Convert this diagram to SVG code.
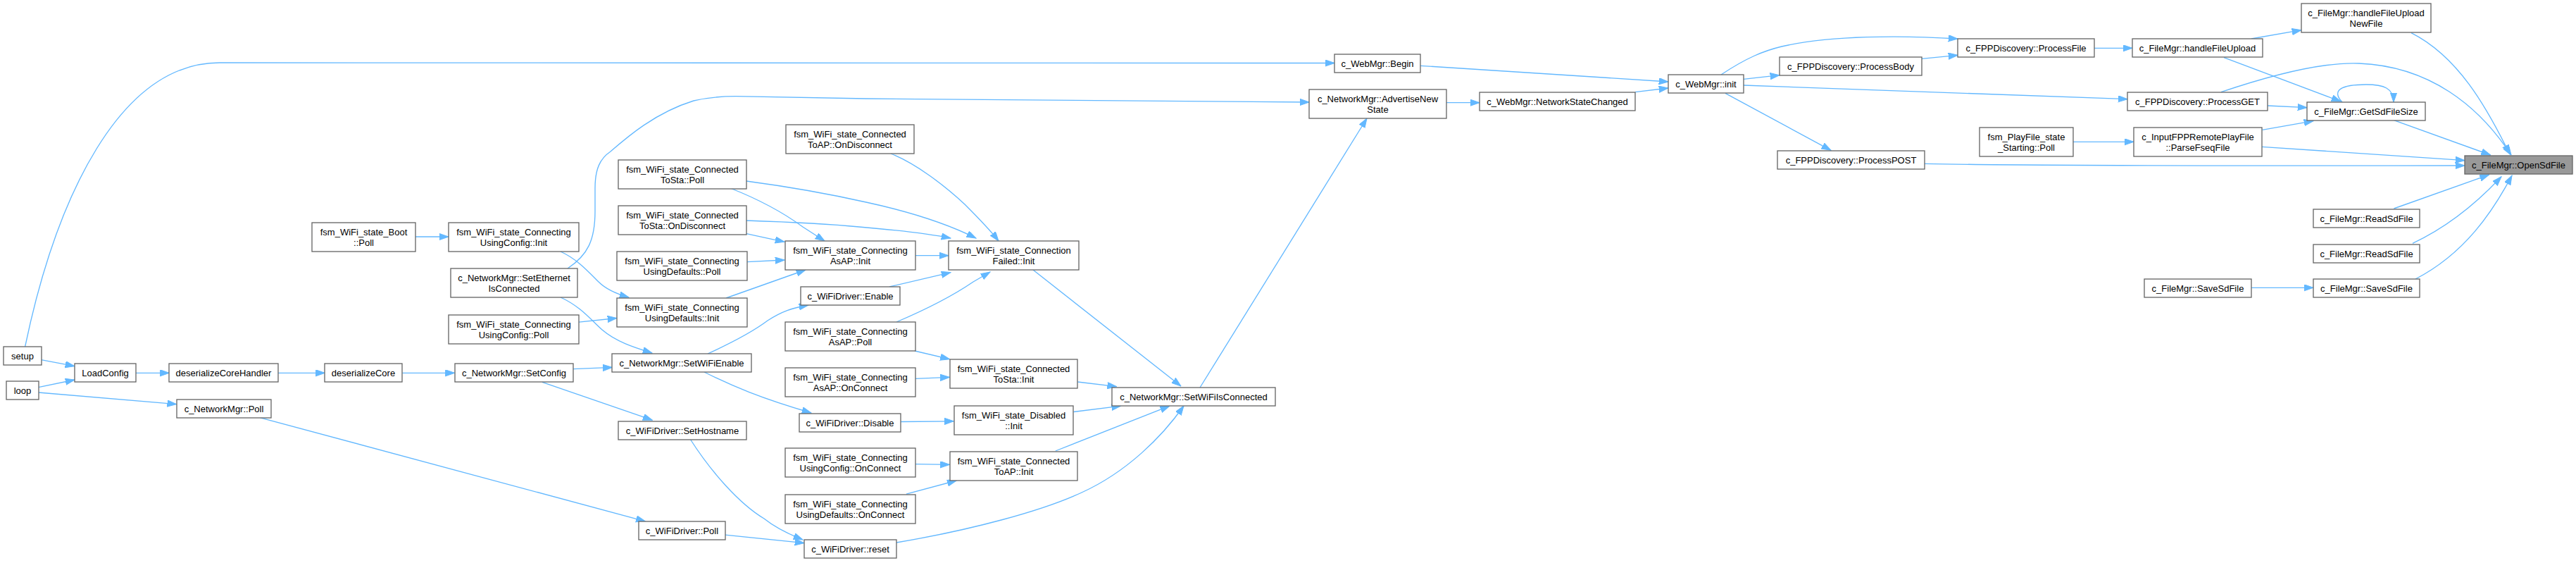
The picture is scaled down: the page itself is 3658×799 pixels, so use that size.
<svg xmlns="http://www.w3.org/2000/svg" width="3658" height="799" viewBox="0 0 3658 799">
<style>
.node rect{fill:#fff;stroke:#666;stroke-width:1.33}
#n_open rect{fill:#999}
.node text{font-family:"Liberation Sans",Arial,Helvetica,sans-serif;font-size:13px;text-anchor:middle;fill:#000}
.edges path{fill:none;stroke:#63b8ff;stroke-width:1.33;marker-end:url(#arr)}
</style>
<defs>
<marker id="arr" markerUnits="userSpaceOnUse" markerWidth="14" markerHeight="10" refX="13.3" refY="4.65" orient="auto" viewBox="0 0 14 10">
<path d="M0,0 L13.3,4.65 L0,9.3 z" fill="#63b8ff" stroke="#63b8ff" stroke-width="1"/>
</marker>
</defs>
<rect width="3658" height="799" fill="#fff"/>
<g class="edges">
<path d="M35.6,492 C80,280 170,89 312,89 L1895,89.5"/>
<path d="M2017,93.3 L2369,116"/>
<path d="M2054,145.7 L2101,145.7"/>
<path d="M2322,130.7 L2369,125"/>
<path d="M2444,106 C2480,82 2505,72 2530,66 C2600,50 2700,50 2780,55"/>
<path d="M2476,112.3 L2527,106.7"/>
<path d="M2729,83.3 L2780,78.3"/>
<path d="M2476,121 L3021,140.7"/>
<path d="M2450,132.3 L2600,213.3"/>
<path d="M2974,68.3 L3028,68.3"/>
<path d="M2944,201.3 L3030,201.3"/>
<path d="M2733,232.3 C2900,236 3300,235 3500,235"/>
<path d="M3197,55 L3268,42.7"/>
<path d="M3158,81.7 L3324,144"/>
<path d="M3154,130.7 C3230,105 3300,88 3350,90 C3450,94 3520,150 3566,220"/>
<path d="M3220,150 L3276,152.7"/>
<path d="M3212.6,184.3 L3285,171.7"/>
<path d="M3212,208.3 L3500,227.7"/>
<path d="M3326,145 C3310,128 3325,120 3360,120 C3385,120 3399,125 3399,145"/>
<path d="M3399.4,170.7 L3536.6,220"/>
<path d="M3424,46.7 C3490,80 3530,150 3564,219"/>
<path d="M3399.4,296 L3534.6,248"/>
<path d="M3426,345.3 C3480,320 3520,285 3552,250.7"/>
<path d="M3430,396 C3500,360 3540,300 3567,249"/>
<path d="M3197,408.3 L3285,408.3"/>
<path d="M58.5,510.7 L106,519.7"/>
<path d="M54.6,549.6 L106,539"/>
<path d="M54.6,557 L250.7,573.6"/>
<path d="M193,529.3 L240.4,529.3"/>
<path d="M395,529.3 L461.4,529.3"/>
<path d="M571.4,529.3 L645.6,529.3"/>
<path d="M369.7,592.8 L916.4,739.8"/>
<path d="M590,336 L637,336"/>
<path d="M796,357 C820,368 835,385 850,400 C860,410 875,417 893,422"/>
<path d="M822,457.2 L876,451.5"/>
<path d="M796,422 C825,435 840,455 855,468 C875,485 900,493 926,501"/>
<path d="M814,523.7 L869.4,521.4"/>
<path d="M770,542.3 L926.3,596.2"/>
<path d="M806,381 C835,362 845,340 845,300 L845,267 C845,240 852,225 867,215 C890,195 930,160 985,143 C1010,137 1030,136.7 1045,136.7 L1230,140 L1859,145"/>
<path d="M1037,267 C1070,280 1110,300 1140,322 L1171,342"/>
<path d="M1060,257 C1120,265 1190,278 1230,287 C1290,300 1340,315 1386,338"/>
<path d="M1060,331.7 L1114,343.3"/>
<path d="M1060,313 C1120,315 1180,318 1220,322 C1280,327 1320,332 1350,338"/>
<path d="M1265,218 C1300,232 1340,262 1370,290 C1390,310 1405,325 1418,342"/>
<path d="M1300,362.7 L1347,362.7"/>
<path d="M1061,371.7 L1114,369"/>
<path d="M1031,423 L1144,383"/>
<path d="M1263,407 L1350,386.7"/>
<path d="M1273,457 C1320,437 1360,415 1382,400 L1406,386"/>
<path d="M1005,502 C1040,486 1070,470 1090,455 C1110,442 1125,437 1148,433"/>
<path d="M1000,528 C1040,548 1080,565 1152,586"/>
<path d="M980,623 C1010,670 1050,715 1085,736 C1100,748 1120,758 1140,766"/>
<path d="M1030,759.1 L1142,770.7"/>
<path d="M1299,498 L1348.5,509.7"/>
<path d="M1300,537.3 L1348.5,535.3"/>
<path d="M1279.3,598.5 L1354.4,597.8"/>
<path d="M1300,658.7 L1348.5,659.4"/>
<path d="M1287,701.2 L1358.4,682"/>
<path d="M1530.4,542 L1585.7,548.6"/>
<path d="M1524.5,584.5 L1591.7,576.2"/>
<path d="M1498.8,640 L1660.8,576.2"/>
<path d="M1273,770 C1380,752 1480,725 1536,699 C1600,670 1650,620 1681,576"/>
<path d="M1467,383 L1677,548"/>
<path d="M1704,550 L1941,168"/>
</g>
<g id="n_open" class="node"><rect x="3500" y="221" width="153" height="26"/><text x="3576.5" y="238.8">c_FileMgr::OpenSdFile</text></g>
<g id="n_newfile" class="node"><rect x="3268" y="5" width="184" height="41"/><text x="3360" y="23.3">c_FileMgr::handleFileUpload</text><text x="3360" y="37.8">NewFile</text></g>
<g id="n_getsize" class="node"><rect x="3276" y="145" width="168" height="26"/><text x="3360" y="162.8">c_FileMgr::GetSdFileSize</text></g>
<g id="n_read1" class="node"><rect x="3285" y="297" width="151" height="26"/><text x="3360.5" y="314.8">c_FileMgr::ReadSdFile</text></g>
<g id="n_read2" class="node"><rect x="3285" y="347" width="151" height="26"/><text x="3360.5" y="364.8">c_FileMgr::ReadSdFile</text></g>
<g id="n_save2" class="node"><rect x="3285" y="396" width="151" height="26"/><text x="3360.5" y="413.8">c_FileMgr::SaveSdFile</text></g>
<g id="n_upload" class="node"><rect x="3028" y="55" width="185" height="26"/><text x="3120.5" y="72.8">c_FileMgr::handleFileUpload</text></g>
<g id="n_get" class="node"><rect x="3021" y="131" width="199" height="26"/><text x="3120.5" y="148.8">c_FPPDiscovery::ProcessGET</text></g>
<g id="n_parse" class="node"><rect x="3030" y="181" width="182" height="41"/><text x="3121" y="199.3">c_InputFPPRemotePlayFile</text><text x="3121" y="213.8">::ParseFseqFile</text></g>
<g id="n_save1" class="node"><rect x="3045" y="396" width="152" height="26"/><text x="3121" y="413.8">c_FileMgr::SaveSdFile</text></g>
<g id="n_pfile" class="node"><rect x="2780" y="55" width="194" height="26"/><text x="2877" y="72.8">c_FPPDiscovery::ProcessFile</text></g>
<g id="n_playpoll" class="node"><rect x="2811" y="181" width="133" height="41"/><text x="2877.5" y="199.3">fsm_PlayFile_state</text><text x="2877.5" y="213.8">_Starting::Poll</text></g>
<g id="n_body" class="node"><rect x="2527" y="81" width="202" height="26"/><text x="2628" y="98.8">c_FPPDiscovery::ProcessBody</text></g>
<g id="n_post" class="node"><rect x="2524" y="214" width="209" height="26"/><text x="2628.5" y="231.8">c_FPPDiscovery::ProcessPOST</text></g>
<g id="n_init" class="node"><rect x="2369" y="106" width="107" height="26"/><text x="2422.5" y="123.8">c_WebMgr::init</text></g>
<g id="n_begin" class="node"><rect x="1895" y="77" width="122" height="26"/><text x="1956" y="94.8">c_WebMgr::Begin</text></g>
<g id="n_nsc" class="node"><rect x="2101" y="131" width="221" height="26"/><text x="2211.5" y="148.8">c_WebMgr::NetworkStateChanged</text></g>
<g id="n_adv" class="node"><rect x="1859" y="127" width="195" height="41"/><text x="1956.5" y="145.3">c_NetworkMgr::AdvertiseNew</text><text x="1956.5" y="159.8">State</text></g>
<g id="n_setwific" class="node"><rect x="1579" y="550" width="232" height="26"/><text x="1695" y="567.8">c_NetworkMgr::SetWiFiIsConnected</text></g>
<g id="n_cfinit" class="node"><rect x="1347" y="342" width="185" height="41"/><text x="1439.5" y="360.3">fsm_WiFi_state_Connection</text><text x="1439.5" y="374.8">Failed::Init</text></g>
<g id="n_tostainit" class="node"><rect x="1349" y="510" width="181" height="41"/><text x="1439.5" y="528.3">fsm_WiFi_state_Connected</text><text x="1439.5" y="542.8">ToSta::Init</text></g>
<g id="n_disinit" class="node"><rect x="1355" y="576" width="169" height="41"/><text x="1439.5" y="594.3">fsm_WiFi_state_Disabled</text><text x="1439.5" y="608.8">::Init</text></g>
<g id="n_toapinit" class="node"><rect x="1349" y="641" width="181" height="41"/><text x="1439.5" y="659.3">fsm_WiFi_state_Connected</text><text x="1439.5" y="673.8">ToAP::Init</text></g>
<g id="n_toapdisc" class="node"><rect x="1116" y="177" width="182" height="41"/><text x="1207" y="195.3">fsm_WiFi_state_Connected</text><text x="1207" y="209.8">ToAP::OnDisconnect</text></g>
<g id="n_asapinit" class="node"><rect x="1115" y="342" width="185" height="41"/><text x="1207.5" y="360.3">fsm_WiFi_state_Connecting</text><text x="1207.5" y="374.8">AsAP::Init</text></g>
<g id="n_enable" class="node"><rect x="1137" y="407" width="141" height="26"/><text x="1207.5" y="424.8">c_WiFiDriver::Enable</text></g>
<g id="n_asappoll" class="node"><rect x="1115" y="457" width="185" height="41"/><text x="1207.5" y="475.3">fsm_WiFi_state_Connecting</text><text x="1207.5" y="489.8">AsAP::Poll</text></g>
<g id="n_asapconn" class="node"><rect x="1115" y="522" width="185" height="41"/><text x="1207.5" y="540.3">fsm_WiFi_state_Connecting</text><text x="1207.5" y="554.8">AsAP::OnConnect</text></g>
<g id="n_disable" class="node"><rect x="1135" y="587" width="144" height="26"/><text x="1207" y="604.8">c_WiFiDriver::Disable</text></g>
<g id="n_ucconn" class="node"><rect x="1115" y="636" width="185" height="41"/><text x="1207.5" y="654.3">fsm_WiFi_state_Connecting</text><text x="1207.5" y="668.8">UsingConfig::OnConnect</text></g>
<g id="n_udconn" class="node"><rect x="1115" y="702" width="185" height="41"/><text x="1207.5" y="720.3">fsm_WiFi_state_Connecting</text><text x="1207.5" y="734.8">UsingDefaults::OnConnect</text></g>
<g id="n_reset" class="node"><rect x="1142" y="766" width="131" height="26"/><text x="1207.5" y="783.8">c_WiFiDriver::reset</text></g>
<g id="n_tostapoll" class="node"><rect x="878" y="227" width="182" height="41"/><text x="969" y="245.3">fsm_WiFi_state_Connected</text><text x="969" y="259.8">ToSta::Poll</text></g>
<g id="n_tostadisc" class="node"><rect x="878" y="292" width="182" height="41"/><text x="969" y="310.3">fsm_WiFi_state_Connected</text><text x="969" y="324.8">ToSta::OnDisconnect</text></g>
<g id="n_udpoll" class="node"><rect x="876" y="357" width="185" height="41"/><text x="968.5" y="375.3">fsm_WiFi_state_Connecting</text><text x="968.5" y="389.8">UsingDefaults::Poll</text></g>
<g id="n_udinit" class="node"><rect x="876" y="423" width="185" height="41"/><text x="968.5" y="441.3">fsm_WiFi_state_Connecting</text><text x="968.5" y="455.8">UsingDefaults::Init</text></g>
<g id="n_setwifien" class="node"><rect x="869" y="502" width="198" height="26"/><text x="968" y="519.8">c_NetworkMgr::SetWiFiEnable</text></g>
<g id="n_hostname" class="node"><rect x="878" y="598" width="182" height="26"/><text x="969" y="615.8">c_WiFiDriver::SetHostname</text></g>
<g id="n_wdpoll" class="node"><rect x="907" y="740" width="123" height="26"/><text x="968.5" y="757.8">c_WiFiDriver::Poll</text></g>
<g id="n_ucinit" class="node"><rect x="637" y="316" width="185" height="41"/><text x="729.5" y="334.3">fsm_WiFi_state_Connecting</text><text x="729.5" y="348.8">UsingConfig::Init</text></g>
<g id="n_seteth" class="node"><rect x="640" y="381" width="180" height="41"/><text x="730" y="399.3">c_NetworkMgr::SetEthernet</text><text x="730" y="413.8">IsConnected</text></g>
<g id="n_ucpoll" class="node"><rect x="637" y="447" width="185" height="41"/><text x="729.5" y="465.3">fsm_WiFi_state_Connecting</text><text x="729.5" y="479.8">UsingConfig::Poll</text></g>
<g id="n_setconfig" class="node"><rect x="646" y="516" width="168" height="26"/><text x="730" y="533.8">c_NetworkMgr::SetConfig</text></g>
<g id="n_bootpoll" class="node"><rect x="443" y="316" width="147" height="41"/><text x="516.5" y="334.3">fsm_WiFi_state_Boot</text><text x="516.5" y="348.8">::Poll</text></g>
<g id="n_dcore" class="node"><rect x="461" y="516" width="110" height="26"/><text x="516" y="533.8">deserializeCore</text></g>
<g id="n_dcoreh" class="node"><rect x="240" y="516" width="155" height="26"/><text x="317.5" y="533.8">deserializeCoreHandler</text></g>
<g id="n_nmpoll" class="node"><rect x="251" y="567" width="134" height="26"/><text x="318" y="584.8">c_NetworkMgr::Poll</text></g>
<g id="n_loadcfg" class="node"><rect x="106" y="516" width="87" height="26"/><text x="149.5" y="533.8">LoadConfig</text></g>
<g id="n_setup" class="node"><rect x="5" y="492" width="54" height="26"/><text x="32" y="509.8">setup</text></g>
<g id="n_loop" class="node"><rect x="9" y="541" width="46" height="26"/><text x="32" y="558.8">loop</text></g>
</svg>
